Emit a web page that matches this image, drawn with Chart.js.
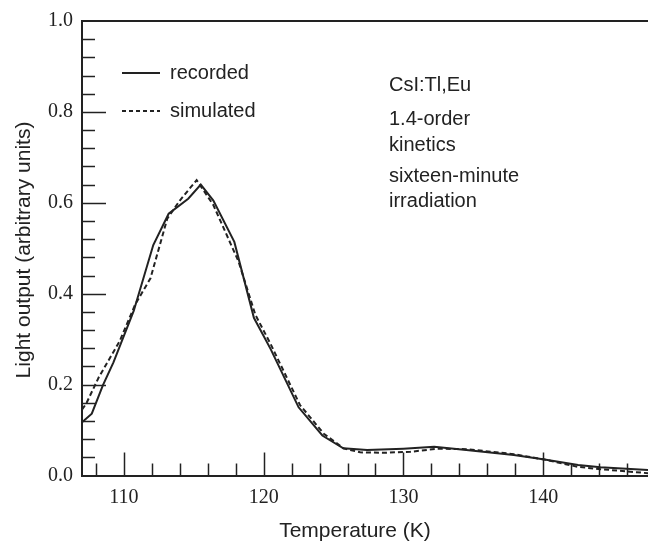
<!DOCTYPE html>
<html>
<head>
<meta charset="utf-8">
<script src="https://cdn.jsdelivr.net/npm/chart.js@4.4.1/dist/chart.umd.min.js"></script>
<style>
  html, body { margin: 0; padding: 0; background: #fff; }
  canvas { display: block; }
</style>
</head>
<body>
<canvas id="glowChart" width="648" height="544"></canvas>
<script>
// Glow curve data (temperature in K, light output in arbitrary units)
const recordedT = [107.0, 107.7, 108.5, 109.25, 110.7, 112.1, 113.2, 114.6, 115.5, 116.4, 117.9, 119.3, 120.5, 122.5, 124.2, 125.7, 127.4, 130.0, 132.2, 134.5, 137.9, 140.1, 142.5, 144.1, 147.5];
const recordedL = [0.117, 0.136, 0.199, 0.249, 0.362, 0.507, 0.576, 0.609, 0.640, 0.605, 0.514, 0.347, 0.278, 0.150, 0.088, 0.060, 0.056, 0.059, 0.063, 0.056, 0.045, 0.035, 0.023, 0.018, 0.012];

const simulatedT = [107.0, 107.3, 108.2, 109.7, 110.8, 111.9, 113.1, 114.0, 115.2, 116.4, 118.2, 119.4, 120.5, 122.6, 124.3, 125.7, 126.9, 128.5, 130.5, 132.4, 134.5, 137.9, 140.1, 142.5, 144.1, 147.5];
const simulatedL = [0.145, 0.158, 0.216, 0.296, 0.376, 0.434, 0.565, 0.605, 0.650, 0.595, 0.471, 0.354, 0.289, 0.155, 0.092, 0.060, 0.051, 0.050, 0.052, 0.059, 0.058, 0.047, 0.035, 0.019, 0.014, 0.005];

const yTickLabels = ['0.0', '0.2', '0.4', '0.6', '0.8', '1.0'];
const legendLabels = ['recorded', 'simulated'];
const noteLines = ['CsI:Tl,Eu', '1.4-order', 'kinetics', 'sixteen-minute', 'irradiation'];

const ink = '#222';
const sansFont = '"Liberation Sans", Arial, Helvetica, sans-serif';
const serifFont = '"Liberation Serif", "Times New Roman", serif';

// frame, inward tick marks, legend, notes and axis titles
const framePlugin = {
  id: 'frame',
  afterDraw(chart) {
    const { ctx, chartArea: a, scales: { x, y } } = chart;
    ctx.save();
    ctx.strokeStyle = ink;
    ctx.lineWidth = 2;
    ctx.beginPath();
    ctx.moveTo(a.left - 1, a.top);
    ctx.lineTo(a.right, a.top);
    ctx.stroke();

    ctx.lineWidth = 1.5;
    for (let v = 108; v <= 146; v += 2) {
      const px = Math.round(x.getPixelForValue(v)) + 0.5;
      const len = v % 10 === 0 ? 23 : 12;
      ctx.beginPath();
      ctx.moveTo(px, a.bottom);
      ctx.lineTo(px, a.bottom - len);
      ctx.stroke();
    }
    for (let i = 1; i < 25; i++) {
      const py = Math.round(y.getPixelForValue(i * 0.04)) + 0.5;
      const len = i % 5 === 0 ? 24 : 13;
      ctx.beginPath();
      ctx.moveTo(a.left, py);
      ctx.lineTo(a.left + len, py);
      ctx.stroke();
    }

    // legend
    ctx.lineWidth = 2;
    ctx.beginPath();
    ctx.moveTo(122, 73);
    ctx.lineTo(160, 73);
    ctx.stroke();
    ctx.setLineDash([4, 3]);
    ctx.beginPath();
    ctx.moveTo(122, 111);
    ctx.lineTo(160, 111);
    ctx.stroke();
    ctx.setLineDash([]);

    ctx.fillStyle = ink;
    ctx.font = '20px ' + sansFont;
    ctx.textAlign = 'left';
    ctx.textBaseline = 'alphabetic';
    ctx.fillText(legendLabels[0], 170, 79);
    ctx.fillText(legendLabels[1], 170, 117);

    // notes
    const noteY = [91, 125, 150.5, 181.5, 206.5];
    noteLines.forEach((t, i) => ctx.fillText(t, 389, noteY[i]));

    // axis titles
    ctx.font = '21px ' + sansFont;
    ctx.textAlign = 'center';
    ctx.fillText('Temperature (K)', 355, 537);
    ctx.translate(30, 250);
    ctx.rotate(-Math.PI / 2);
    ctx.fillText('Light output (arbitrary units)', 0, 0);
    ctx.restore();
  }
};

const ctx = document.getElementById('glowChart').getContext('2d');
new Chart(ctx, {
  type: 'line',
  data: {
    datasets: [
      {
        label: legendLabels[0],
        data: recordedT.map((t, i) => ({ x: t, y: recordedL[i] })),
        borderColor: ink,
        borderWidth: 2,
        pointRadius: 0,
        tension: 0,
        fill: false,
      },
      {
        label: legendLabels[1],
        data: simulatedT.map((t, i) => ({ x: t, y: simulatedL[i] })),
        borderColor: ink,
        borderWidth: 2,
        borderDash: [5, 3],
        pointRadius: 0,
        tension: 0,
        fill: false,
      },
    ],
  },
  options: {
    responsive: false,
    animation: false,
    devicePixelRatio: 1,
    layout: { padding: { top: 18, right: 0, left: 0, bottom: 0 } },
    plugins: { legend: { display: false }, tooltip: { enabled: false } },
    scales: {
      x: {
        type: 'linear',
        min: 107,
        max: 147.5,
        afterFit: (s) => { s.height = 68.5; },
        grid: { display: true, drawOnChartArea: false, drawTicks: false },
        border: { display: true, color: ink, width: 2 },
        ticks: {
          stepSize: 10,
          includeBounds: false,
          maxRotation: 0,
          padding: 10,
          color: ink,
          font: { family: serifFont, size: 20 },
          callback: (v) => (v % 10 === 0 ? String(v) : ''),
        },
      },
      y: {
        min: 0,
        max: 1,
        afterFit: (s) => { s.width = 82; },
        grid: { display: true, drawOnChartArea: false, drawTicks: false },
        border: { display: true, color: ink, width: 2 },
        ticks: {
          stepSize: 0.2,
          padding: 9,
          color: ink,
          font: { family: serifFont, size: 20 },
          callback: (v, i) => yTickLabels[i],
        },
      },
    },
  },
  plugins: [framePlugin],
});
</script>
</body>
</html>
